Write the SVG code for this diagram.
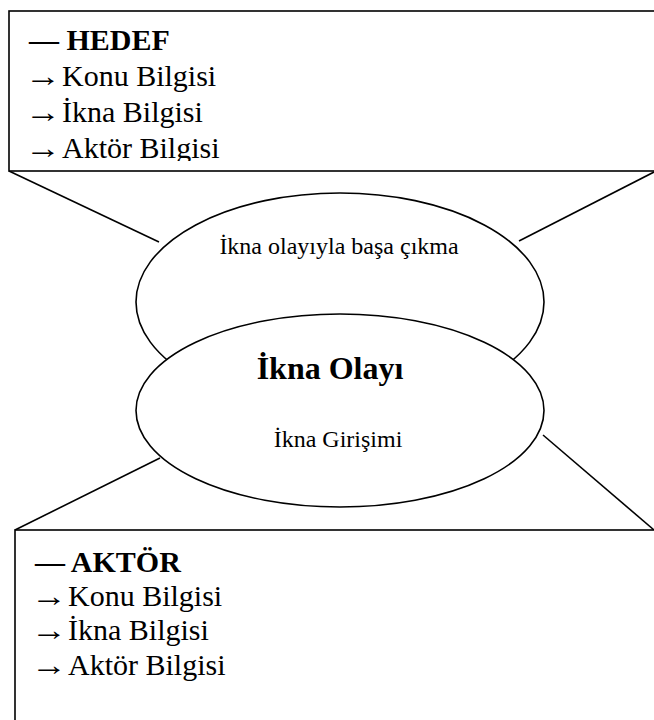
<svg xmlns="http://www.w3.org/2000/svg" width="654" height="720" viewBox="0 0 654 720">
<style>
.box{fill:#fff;stroke:#000;stroke-width:1.6}
.ell{fill:#fff;stroke:#000;stroke-width:1.6}
.ln{stroke:#000;stroke-width:1.6;fill:none}
text{font-family:"Liberation Serif","Times New Roman","DejaVu Serif",serif;fill:#000}
.big{font-size:30px}
.bold{font-weight:bold}
.mid{font-size:24px;text-anchor:middle}
</style>
<defs>
<clipPath id="topclip"><rect x="9" y="11" width="660" height="150"/></clipPath>
</defs>
<rect width="654" height="720" fill="#fff"/>
<g id="connectors">
<line class="ln" x1="9" y1="171" x2="159" y2="242"/>
<line class="ln" x1="654" y1="172" x2="519" y2="241"/>
<line class="ln" x1="160" y1="458" x2="15" y2="530"/>
<line class="ln" x1="543" y1="435" x2="654" y2="530"/>
</g>
<g id="hedef">
<rect class="box" x="9" y="11" width="680" height="160"/>
<g clip-path="url(#topclip)">
<text class="big bold" x="29" y="50">— HEDEF</text>
<text class="big" x="25" y="86" textLength="36" lengthAdjust="spacingAndGlyphs">→</text>
<text class="big" x="62" y="86">Konu Bilgisi</text>
<text class="big" x="25" y="122" textLength="36" lengthAdjust="spacingAndGlyphs">→</text>
<text class="big" x="62" y="122">İkna Bilgisi</text>
<text class="big" x="25" y="158" textLength="36" lengthAdjust="spacingAndGlyphs">→</text>
<text class="big" x="62" y="158">Aktör Bilgisi</text>
</g>
</g>
<g id="basa-cikma">
<ellipse class="ell" cx="340" cy="302" rx="204" ry="109"/>
<text class="mid" x="339" y="254">İkna olayıyla başa çıkma</text>
</g>
<g id="ikna-olayi">
<ellipse class="ell" cx="340" cy="410.5" rx="204" ry="96.5"/>
<text class="bold" x="330" y="379" font-size="32" text-anchor="middle">İkna Olayı</text>
<text class="mid" x="338" y="447">İkna Girişimi</text>
</g>
<g id="aktor">
<rect class="box" x="15" y="530" width="680" height="240"/>
<text class="big bold" x="35" y="572">— AKTÖR</text>
<text class="big" x="31" y="606" textLength="36" lengthAdjust="spacingAndGlyphs">→</text>
<text class="big" x="68" y="606">Konu Bilgisi</text>
<text class="big" x="31" y="640" textLength="36" lengthAdjust="spacingAndGlyphs">→</text>
<text class="big" x="68" y="640">İkna Bilgisi</text>
<text class="big" x="31" y="675" textLength="36" lengthAdjust="spacingAndGlyphs">→</text>
<text class="big" x="68" y="675">Aktör Bilgisi</text>
</g>
</svg>
